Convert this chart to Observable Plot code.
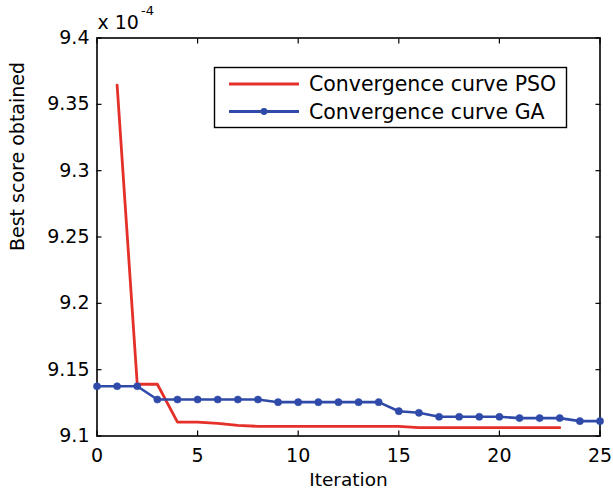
<!DOCTYPE html>
<html>
<head>
<meta charset="utf-8">
<script src="https://cdn.jsdelivr.net/npm/d3@7"></script>
<script src="https://cdn.jsdelivr.net/npm/@observablehq/plot@0.6"></script>
<style>
  html, body { margin: 0; padding: 0; background: #fff; }
  #chart { width: 613px; height: 491px; }
  svg text { font-family: "DejaVu Sans", "Liberation Sans", sans-serif; }
</style>
</head>
<body>
<div id="chart"></div>
<script>
// Values in units of 1e-4
const psoIter = [1, 2, 3, 4, 5, 6, 7, 8, 9, 10, 11, 12, 13, 14, 15, 16, 17, 18, 19, 20, 21, 22, 23];
const psoScore = [9.3645, 9.139, 9.139, 9.1105, 9.1105, 9.1095, 9.108, 9.1073, 9.1073, 9.1073, 9.1073, 9.1073, 9.1073, 9.1073, 9.1073, 9.1063, 9.1063, 9.1063, 9.1063, 9.1063, 9.1063, 9.1063, 9.1063];
const gaIter = [0, 1, 2, 3, 4, 5, 6, 7, 8, 9, 10, 11, 12, 13, 14, 15, 16, 17, 18, 19, 20, 21, 22, 23, 24, 25];
const gaScore = [9.1375, 9.1375, 9.1375, 9.1275, 9.1275, 9.1275, 9.1275, 9.1275, 9.1275, 9.1255, 9.1255, 9.1255, 9.1255, 9.1255, 9.1255, 9.1187, 9.1175, 9.1145, 9.1145, 9.1145, 9.1145, 9.1135, 9.1135, 9.1135, 9.1112, 9.1112];
const xTicks = [0, 5, 10, 15, 20, 25];
const yTicks = [9.1, 9.15, 9.2, 9.25, 9.3, 9.35, 9.4];
const seriesNames = ["Convergence curve PSO", "Convergence curve GA"];
const xLabel = "Iteration";
const yLabel = "Best score obtained";
const exponentBase = "x 10";
const exponentPower = "-4";

const RED = "#e5302a";
const BLUE = "#2f4aa8";

const pso = psoIter.map((x, i) => ({x, y: psoScore[i]}));
const ga = gaIter.map((x, i) => ({x, y: gaScore[i]}));
const fmt = d => String(+d.toFixed(2));

const plot = Plot.plot({
  width: 613,
  height: 491,
  marginLeft: 96.5,
  marginRight: 13.5,
  marginTop: 37.5,
  marginBottom: 55.5,
  style: {fontFamily: "DejaVu Sans, Liberation Sans, sans-serif", fontSize: "19px", color: "#000", background: "#fff"},
  x: {domain: [0, 25], ticks: xTicks},
  y: {domain: [9.1, 9.4], ticks: yTicks},
  marks: [
    Plot.axisX({anchor: "bottom", ticks: xTicks, tickSize: -5, tickPadding: 17, tickFormat: fmt, label: null, fontSize: 19, strokeWidth: 1.2}),
    Plot.axisX({anchor: "top", ticks: xTicks, tickSize: -5, tickFormat: () => "", label: null, strokeWidth: 1.2}),
    Plot.axisY({anchor: "left", ticks: yTicks, tickSize: -5, tickPadding: 12.5, tickFormat: fmt, label: null, fontSize: 19, strokeWidth: 1.2}),
    Plot.axisY({anchor: "right", ticks: yTicks, tickSize: -5, tickFormat: () => "", label: null, strokeWidth: 1.2}),
    Plot.frame({stroke: "#000", strokeWidth: 1.6}),
    Plot.line(pso, {x: "x", y: "y", stroke: RED, strokeWidth: 2.8}),
    Plot.line(ga, {x: "x", y: "y", stroke: BLUE, strokeWidth: 2.6}),
    Plot.dot(ga, {x: "x", y: "y", r: 3.6, fill: BLUE, stroke: BLUE, strokeWidth: 0.5}),
    Plot.text([xLabel], {frameAnchor: "bottom", dy: 50, lineAnchor: "bottom", text: d => d, fontSize: 18.5, fill: "#000"}),
    Plot.text([yLabel], {frameAnchor: "left", dx: -79.5, dy: 14, rotate: -90, text: d => d, fontSize: 19, fill: "#000"}),
    Plot.text([exponentBase], {frameAnchor: "top-left", dx: 0.5, dy: -9.5, lineAnchor: "bottom", textAnchor: "start", text: d => d, fontSize: 19, fill: "#000"}),
    Plot.text([exponentPower], {frameAnchor: "top-left", dx: 44, dy: -23, lineAnchor: "bottom", textAnchor: "start", text: d => d, fontSize: 13, fill: "#000"})
  ]
});

document.getElementById("chart").appendChild(plot);

// Legend
const svg = d3.select(plot);
const lg = svg.append("g").attr("class", "legend").attr("text-anchor", "start");
lg.append("rect").attr("x", 214.5).attr("y", 67.5).attr("width", 352).attr("height", 60)
  .attr("fill", "#fff").attr("stroke", "#000").attr("stroke-width", 1.4);
const items = [
  {name: seriesNames[0], color: RED, marker: false, y: 84},
  {name: seriesNames[1], color: BLUE, marker: true, y: 111.5}
];
items.forEach(it => {
  lg.append("line").attr("x1", 229).attr("x2", 299).attr("y1", it.y).attr("y2", it.y)
    .attr("stroke", it.color).attr("stroke-width", 2.8);
  if (it.marker) lg.append("circle").attr("cx", 264).attr("cy", it.y).attr("r", 3.4).attr("fill", it.color);
  lg.append("text").attr("x", 309).attr("y", it.y).attr("dy", "0.36em")
    .attr("text-anchor", "start").attr("font-size", 20.5).attr("fill", "#000").text(it.name);
});
</script>
</body>
</html>
